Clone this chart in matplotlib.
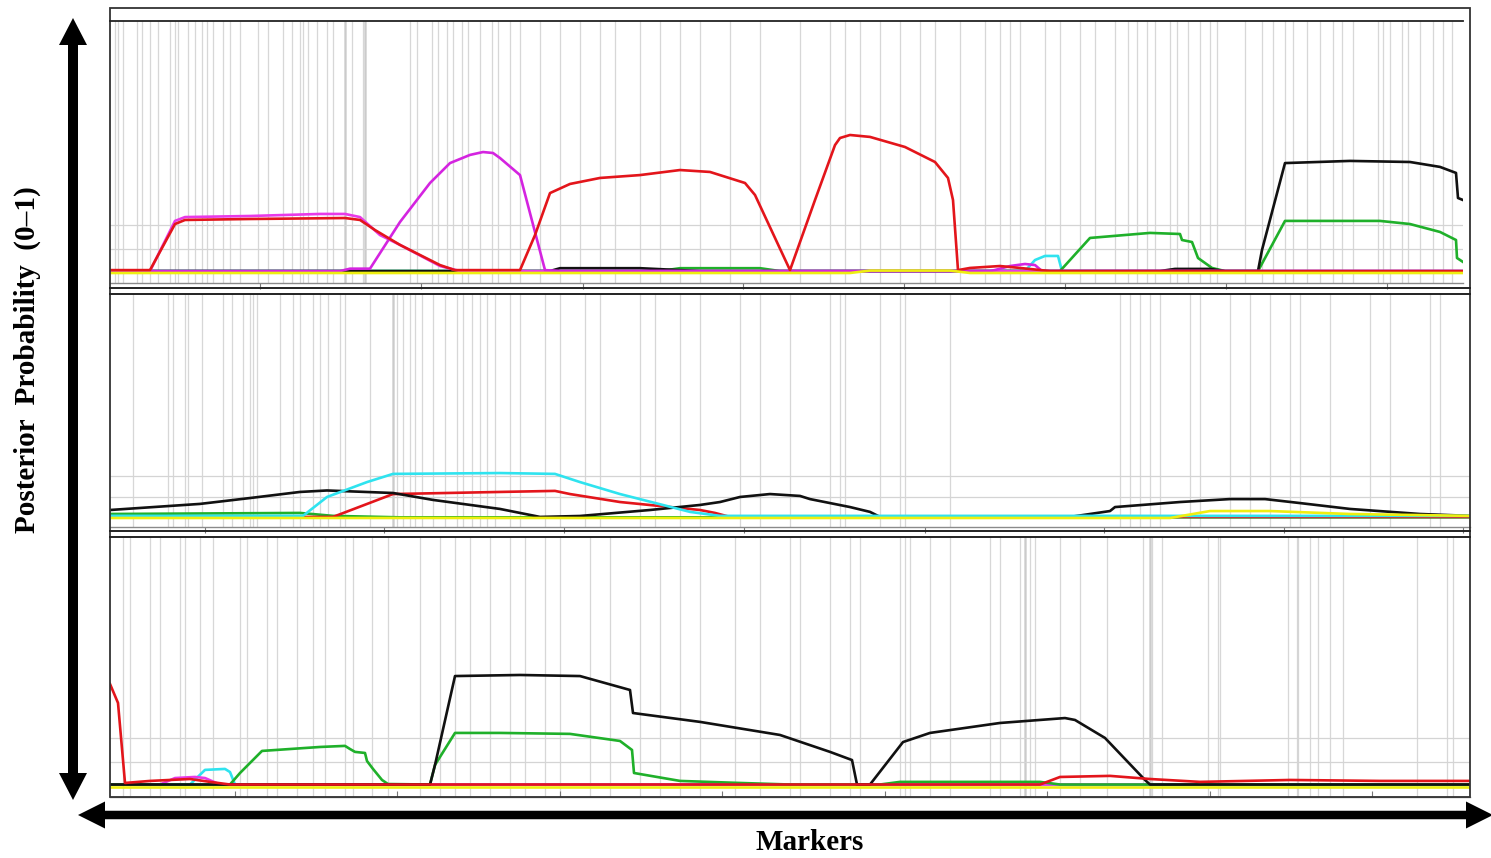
import matplotlib
matplotlib.use("Agg")
import matplotlib.pyplot as plt
from matplotlib.patches import Polygon, Rectangle

# ── Data: positions in cM, values are posterior probabilities ────────────────

# panel 1
P1_RED_X = [0, 4, 6.5, 7.5, 14, 23.5, 25, 26.5, 29, 33, 34.5, 41, 42.5, 44, 46, 49, 53, 57, 60,
            63.5, 64.5, 68, 70.5, 72.5, 73, 74, 76, 79.5, 82.5, 83.8, 84.3, 84.8, 86, 89, 91, 94, 135.3]
P1_RED_Y = [0.012, 0.012, 0.204, 0.221, 0.225, 0.229, 0.221, 0.179, 0.117, 0.033, 0.012, 0.012, 0.158,
            0.333, 0.371, 0.396, 0.408, 0.429, 0.421, 0.375, 0.325, 0.012, 0.304, 0.533, 0.5625, 0.575,
            0.567, 0.525, 0.4625, 0.396, 0.304, 0.012, 0.021, 0.029, 0.021, 0.008, 0.008]
P1_MAG_X = [0, 4, 6.5, 7.5, 14, 21, 23.5, 25, 27, 29, 33, 35, 135.3]
P1_MAG_Y = [0.008, 0.008, 0.217, 0.233, 0.2375, 0.246, 0.246, 0.233, 0.158, 0.117, 0.029, 0.008, 0.008]
P1_VIO_X = [0, 23, 24, 26, 29, 32, 34, 36, 37.3, 38.3, 39, 41, 43.5, 45, 88, 88.5, 90, 91.5, 92.5, 93.2, 135.3]
P1_VIO_Y = [0.008, 0.008, 0.018, 0.018, 0.2125, 0.375, 0.458, 0.492, 0.504, 0.5, 0.479, 0.408, 0.012,
            0.008, 0.008, 0.0125, 0.029, 0.0375, 0.033, 0.008, 0.008]
P1_CYAN_X = [0, 91.5, 92.5, 93.5, 94.8, 95.2, 135.3]
P1_CYAN_Y = [0.008, 0.008, 0.054, 0.071, 0.071, 0.008, 0.008]
P1_GREEN_X = [0, 55, 57, 65, 67, 95, 96, 98, 104, 107, 107.2, 108.2, 108.5, 108.8, 110.2, 111.5, 114.8,
              117.5, 127, 130, 133, 134.6, 134.7, 135.3]
P1_GREEN_Y = [0.008, 0.008, 0.02, 0.02, 0.008, 0.008, 0.054, 0.146, 0.167, 0.1625, 0.1375, 0.129, 0.096,
              0.0625, 0.021, 0.008, 0.008, 0.217, 0.217, 0.204, 0.171, 0.1375, 0.0625, 0.046]
P1_BLACK_X = [0, 44, 45, 53, 59, 105, 106.5, 110, 111.5, 114.8, 115.2, 117.5, 124, 130, 133, 134.6, 134.8, 135.3]
P1_BLACK_Y = [0.008, 0.008, 0.02, 0.02, 0.008, 0.008, 0.017, 0.017, 0.008, 0.008, 0.096, 0.458, 0.467,
              0.4625, 0.442, 0.417, 0.3125, 0.304]
P1_YEL_X = [0, 74, 76, 84, 86, 135.3]
P1_YEL_Y = [0.0, 0.0, 0.01, 0.01, 0.0, 0.0]

# panel 2
P2_BLACK_X = [0, 9, 14, 19, 21.7, 28.3, 32.3, 39, 43, 47, 54, 59, 61, 63, 66, 69, 70, 74, 76, 77, 96,
              100, 100.5, 107, 112, 115.5, 119, 124, 131, 136]
P2_BLACK_Y = [0.038, 0.067, 0.095, 0.124, 0.131, 0.119, 0.086, 0.043, 0.005, 0.0095, 0.038, 0.062, 0.076,
              0.1, 0.114, 0.105, 0.09, 0.052, 0.029, 0.005, 0.005, 0.033, 0.052, 0.076, 0.09, 0.09, 0.071,
              0.043, 0.019, 0.01]
P2_CYAN_X = [0, 19.3, 21.7, 25.7, 28.3, 39, 44.5, 47, 51, 58, 61, 136]
P2_CYAN_Y = [0.01, 0.01, 0.1, 0.171, 0.21, 0.214, 0.21, 0.171, 0.114, 0.029, 0.01, 0.01]
P2_RED_X = [0, 22.3, 28.3, 39, 44.5, 46, 51, 59, 60.5, 62, 136]
P2_RED_Y = [0.005, 0.005, 0.114, 0.124, 0.129, 0.114, 0.076, 0.038, 0.024, 0.005, 0.005]
P2_GREEN_X = [0, 19, 22.3, 29, 136]
P2_GREEN_Y = [0.019, 0.024, 0.01, 0.003, 0.003]
P2_YEL_X = [0, 106, 110, 116, 124, 136]
P2_YEL_Y = [0.0, 0.0, 0.033, 0.033, 0.019, 0.01]

# panel 3
P3_RED_X = [0, 0.8, 1.5, 4, 8, 10, 12, 93, 95, 100, 104, 109, 118, 127, 136]
P3_RED_Y = [0.425, 0.346, 0.0125, 0.021, 0.029, 0.017, 0.006, 0.006, 0.0375, 0.042, 0.029, 0.017,
            0.025, 0.021, 0.021]
P3_MAG_X = [0, 5, 6.5, 8.5, 9.5, 11, 136]
P3_MAG_Y = [0.006, 0.006, 0.033, 0.0375, 0.033, 0.006, 0.006]
P3_CYAN_X = [0, 8, 9.5, 11.5, 12, 12.5, 94, 96, 136]
P3_CYAN_Y = [0.006, 0.006, 0.067, 0.071, 0.058, 0.006, 0.006, 0.004, 0.004]
P3_GREEN_X = [0, 12, 13, 15.2, 21, 23.5, 24, 24.5, 25.5, 25.7, 26.3, 27.2, 27.8, 32, 32.5, 34.5, 39, 46,
              51, 52.2, 52.4, 57, 63, 68, 77, 79, 93, 95, 136]
P3_GREEN_Y = [0.006, 0.006, 0.054, 0.146, 0.1625, 0.167, 0.154, 0.142, 0.1375, 0.104, 0.071, 0.025,
              0.008, 0.006, 0.0875, 0.221, 0.221, 0.217, 0.1875, 0.15, 0.054, 0.021, 0.0125, 0.006,
              0.006, 0.017, 0.017, 0.006, 0.006]
P3_BLACK_X = [0, 32, 32.5, 34.5, 41, 47, 52, 52.3, 59, 67, 72, 74.2, 74.7, 76, 79.3, 82, 89, 95.5, 96.5,
              99.5, 103.5, 104, 136]
P3_BLACK_Y = [0.006, 0.006, 0.0875, 0.458, 0.4625, 0.458, 0.4, 0.304, 0.267, 0.2125, 0.142, 0.108, 0.006,
              0.006, 0.183, 0.221, 0.2625, 0.283, 0.275, 0.2, 0.025, 0.006, 0.006]
P3_YEL_X = [0, 136]
P3_YEL_Y = [-0.004, -0.004]

# marker positions (cM)
P1_MARKERS = [0.5, 0.8, 1.3, 2.7, 3.2, 4, 4.8, 6, 6.5, 6.8, 7.8, 8.5, 9.2, 9.7, 10.3, 11.3, 12, 13, 14.8,
              15.8, 17.3, 18.2, 19, 19.3, 19.8, 20.7, 21.7, 22.3, 23.5, 24.2, 25.3, 25.5, 30, 30.7, 32.2,
              32.8, 33.7, 34.3, 35.2, 35.8, 37, 38.2, 38.8, 40, 41, 43, 45, 47, 49, 50.5, 53, 55, 57, 59,
              62, 65, 69, 72, 73.5, 75, 77, 79, 81, 82.5, 85, 87.5, 89, 90, 91, 93.5, 95, 97, 98.5, 100.5,
              101.8, 102.7, 103.7, 104.5, 106, 106.7, 107.8, 109, 110, 110.7, 113.5, 115.2, 116.3, 117.5,
              118.3, 119.7, 121, 122.3, 123.2, 124.3, 126.8, 127.3, 128, 129.2, 129.8, 131, 132.3, 133.3, 134.2]
P2_MARKERS = [2.3, 5.8, 6.3, 7.5, 7.8, 9.2, 11.3, 12.2, 13.3, 14, 14.3, 14.7, 17, 18.3, 19, 20.3, 21,
              21.8, 23, 23.5, 26, 28.3, 28.7, 29.3, 30, 30.5, 31.2, 32.3, 33.5, 34.7, 35.3, 36.2, 37,
              37.7, 38.5, 40, 41, 43.5, 45, 47.5, 49, 53, 54.5, 57, 59, 63, 65, 68, 72, 73, 73.5, 77, 79,
              79.5, 84, 101, 102, 103, 104, 105, 108, 109, 112, 114, 116, 118, 119, 122, 126, 128, 132, 133]
P3_MARKERS = [1.3, 2, 4, 5, 7, 7.5, 9, 10.3, 13, 13.7, 15.7, 16.7, 18.7, 20.3, 21.5, 23.5, 24.3, 26.2,
              27.8, 31, 33, 34.5, 36, 38, 40, 41.5, 43.5, 45, 48, 50, 53, 55, 57, 59, 62.5, 65, 68, 69,
              72, 74, 75, 79, 79.5, 80, 82, 84, 88, 89, 91, 91.5, 92, 92.5, 95, 97, 99.7, 103.3, 104,
              104.2, 105.2, 109.8, 110.8, 111, 117.8, 118.7, 118.8, 120, 120.8, 122, 123.3, 130.7, 133.7, 134.3]
P1_DENSE = [23.5, 25.5]
P2_DENSE = [28.3]
P3_DENSE = [91.5, 104]

P1_TICKS = [15, 31.1, 47.3, 63.3, 79.4, 95.5, 111.6, 127.7]
P2_TICKS = [9.5, 27.4, 45.4, 63.4, 81.5, 99.4, 117.4, 135.3]
P3_TICKS = [12.5, 28.7, 45, 61.2, 77.5, 93.7, 110, 126.2]

# ── Styling ──────────────────────────────────────────────────────────────────

W, H = 1491, 858
COLORS = {
    "red":    "#e3151b",
    "mag":    "#e83ae8",
    "vio":    "#d424e0",
    "cyan":   "#2fe3ef",
    "green":  "#1fb02a",
    "black":  "#111111",
    "yellow": "#eeee10",
}
LW = 1.9

fig = plt.figure(figsize=(W / 100, H / 100), dpi=100)
fig.patch.set_facecolor("white")


def px_axes(x0, y0, x1, y1, **kw):
    return fig.add_axes([x0 / W, 1 - y1 / H, (x1 - x0) / W, (y1 - y0) / H], **kw)


def style_panel(ax, xmax, ylim, markers, dense, ticks, tickdir):
    ax.set_xlim(0, xmax)
    ax.set_ylim(*ylim)
    for m in markers:
        ax.axvline(m, color="#cdcdcd", lw=0.9, alpha=0.8, zorder=0)
    for m in dense:
        ax.axvline(m, color="#c4c4c4", lw=2.0, alpha=0.6, zorder=0)
    for g in (0.1, 0.2):
        ax.axhline(g, color="#d4d4d4", lw=0.9, zorder=0)
    for s in ("top", "left", "right"):
        ax.spines[s].set_visible(False)
    ax.spines["bottom"].set_color("#8a8a8a")
    ax.spines["bottom"].set_linewidth(1.0)
    ax.set_xticks(ticks)
    ax.set_xticklabels([])
    ax.set_yticks([])
    ax.tick_params(axis="x", direction=tickdir, length=4, width=0.8, color="#777777")


def draw(ax, x, y, c, z=3):
    ax.plot(x, y, color=COLORS[c], lw=LW, solid_joinstyle="round", zorder=z)


# panel 1
ax1 = px_axes(110, 21, 1463, 283)
style_panel(ax1, 135.3, (-0.0417, 1.05), P1_MARKERS, P1_DENSE, P1_TICKS, "out")
draw(ax1, P1_CYAN_X, P1_CYAN_Y, "cyan")
draw(ax1, P1_GREEN_X, P1_GREEN_Y, "green")
draw(ax1, P1_BLACK_X, P1_BLACK_Y, "black")
draw(ax1, P1_MAG_X, P1_MAG_Y, "mag")
draw(ax1, P1_VIO_X, P1_VIO_Y, "vio")
draw(ax1, P1_RED_X, P1_RED_Y, "red")
draw(ax1, P1_YEL_X, P1_YEL_Y, "yellow", z=4)

# panel 2
ax2 = px_axes(110, 294, 1470, 527)
style_panel(ax2, 136, (-0.043, 1.067), P2_MARKERS, P2_DENSE, P2_TICKS, "out")
draw(ax2, P2_GREEN_X, P2_GREEN_Y, "green")
draw(ax2, P2_RED_X, P2_RED_Y, "red")
draw(ax2, P2_BLACK_X, P2_BLACK_Y, "black")
draw(ax2, P2_CYAN_X, P2_CYAN_Y, "cyan")
draw(ax2, P2_YEL_X, P2_YEL_Y, "yellow", z=4)

# panel 3
ax3 = px_axes(110, 537, 1470, 797)
style_panel(ax3, 136, (-0.046, 1.0375), P3_MARKERS, P3_DENSE, P3_TICKS, "in")
draw(ax3, P3_CYAN_X, P3_CYAN_Y, "cyan")
draw(ax3, P3_MAG_X, P3_MAG_Y, "mag")
draw(ax3, P3_GREEN_X, P3_GREEN_Y, "green")
draw(ax3, P3_BLACK_X, P3_BLACK_Y, "black")
draw(ax3, P3_RED_X, P3_RED_Y, "red")
draw(ax3, P3_YEL_X, P3_YEL_Y, "yellow", z=4)

# ── Frames and arrows (overlay in pixel space) ───────────────────────────────

ov = fig.add_axes([0, 0, 1, 1], zorder=10)
ov.set_xlim(0, W)
ov.set_ylim(H, 0)
ov.axis("off")
ov.patch.set_alpha(0)

ov.add_patch(Rectangle((110, 8), 1360, 789, fill=False, ec="#333333", lw=1.3))
ov.plot([110, 1463], [21, 21], color="#222222", lw=1.3)
for yy in (288, 294, 531, 537):
    ov.plot([110, 1470], [yy, yy], color="#222222", lw=1.4)


def double_arrow(ax, a, b, c, shaft, head_w, head_l, vertical):
    # a..b along the arrow, c across it
    s, hw = shaft / 2, head_w / 2
    pts = [(a, c), (a + head_l, c - hw), (a + head_l, c - s), (b - head_l, c - s),
           (b - head_l, c - hw), (b, c), (b - head_l, c + hw), (b - head_l, c + s),
           (a + head_l, c + s), (a + head_l, c + hw)]
    if vertical:
        pts = [(q, p) for p, q in pts]
    ax.add_patch(Polygon(pts, closed=True, fc="black", ec="none"))


double_arrow(ov, 18, 800, 73, 10, 28, 27, vertical=True)
double_arrow(ov, 78, 1493, 815, 8.5, 27, 27, vertical=False)

fig.text(27 / W, 1 - 360 / H, "Posterior  Probability  (0\u20131)", rotation=90,
         ha="center", va="center", fontsize=21, fontweight="bold", family="Liberation Serif")
fig.text(810 / W, 1 - 843 / H, "Markers", ha="center", va="center",
         fontsize=21, fontweight="bold", family="Liberation Serif")

fig.savefig("out.png", dpi=100, facecolor="white")
